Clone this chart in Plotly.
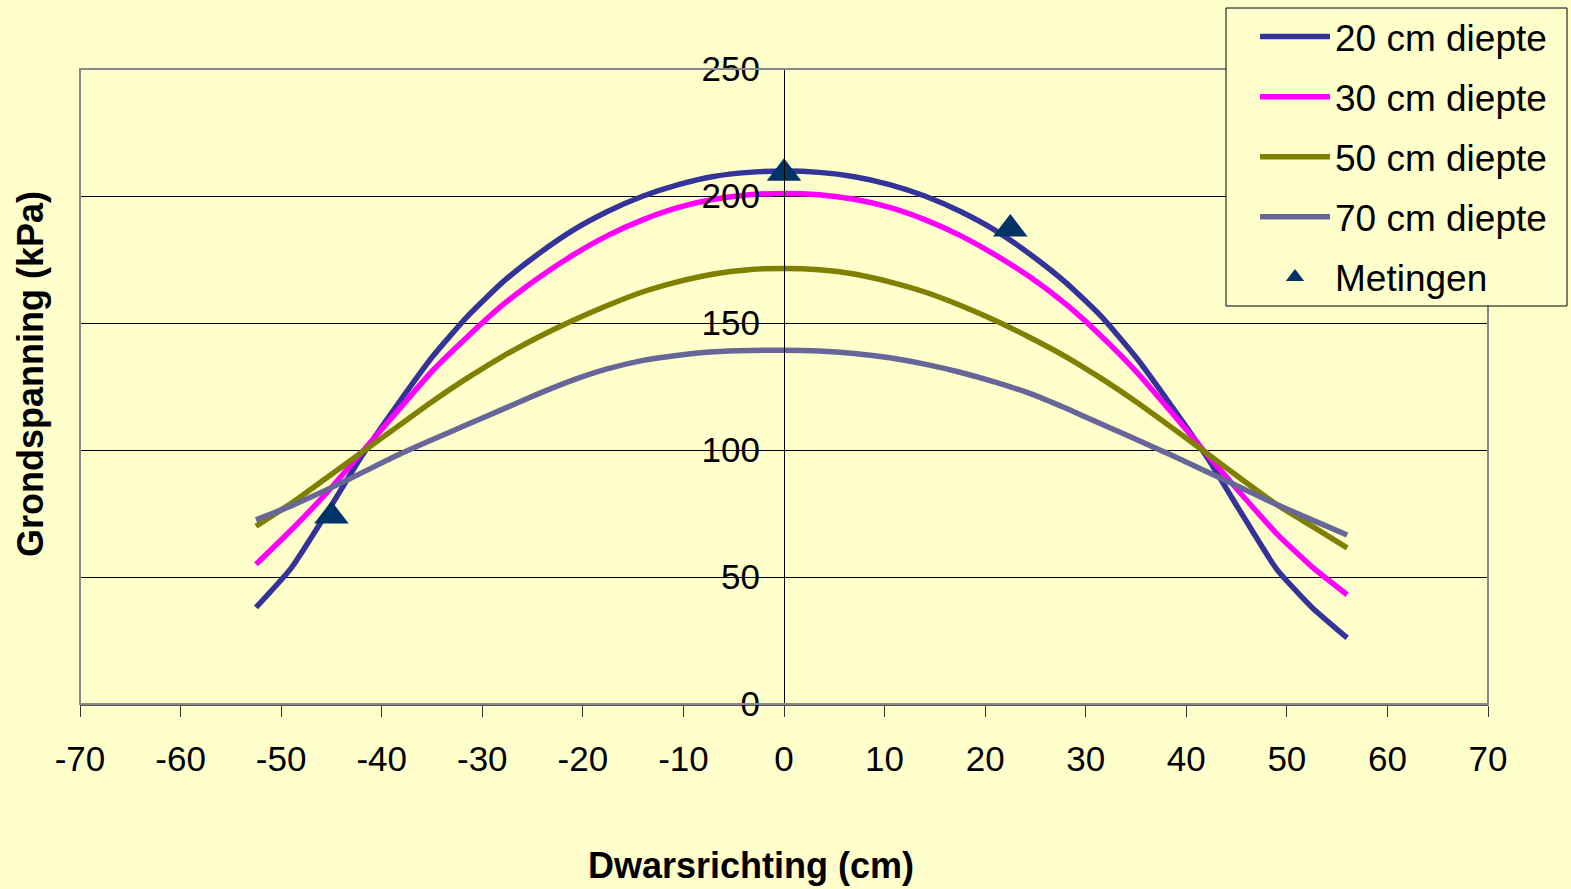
import plotly.graph_objects as go

# ---- data ----
x_pos = [-52.5, -49, -45.5, -42, -38.5, -35, -31.5, -28, -24.5, -21, -17.5, -14, -10.5, -7, -3.5, 0,
         3.5, 7, 10.5, 14, 17.5, 21, 24.5, 28, 31.5, 35, 38.5, 42, 45.5, 49, 52.5, 56]
d20 = [38, 53.5, 75, 97.5, 117.5, 136.5, 152.5, 166, 177, 186.5, 194, 200, 204.5, 207.7, 209.3, 209.8,
       209.3, 207.6, 204.5, 200, 194, 186.5, 177, 166, 152.8, 136.5, 117.5, 97.5, 75, 53, 38, 26]
d30 = [55, 68.5, 83, 99, 115, 131, 144.5, 157, 167.5, 176.7, 184.5, 190.7, 195.5, 198.7, 200.5, 201,
       200.5, 198.7, 195.5, 190.7, 184.5, 176.8, 168, 157.5, 145, 131, 115, 98.5, 82.5, 67, 54, 43]
d50 = [70, 79, 89, 99, 109, 119, 128.3, 136.8, 144.3, 151, 157, 162.3, 166.3, 169.3, 171, 171.5,
       171, 169.3, 166.2, 162.2, 157, 151, 144.2, 136.8, 128.3, 119, 109, 98.8, 88.5, 78.5, 70, 61.5]
d70 = [72.5, 78, 84.3, 91, 97.8, 104, 110, 116, 122, 127.5, 132, 135.3, 137.3, 138.7, 139.2, 139.3,
       139, 138, 136.3, 133.8, 130.6, 126.7, 122.2, 116.5, 110.3, 104.2, 98, 91.5, 85, 78.5, 72.5, 66.5]
meas_x = [-45, 0, 22.5]
meas_y = [74, 209, 187]

series_names = ["20 cm diepte", "30 cm diepte", "50 cm diepte", "70 cm diepte"]
series_colors = ["#333399", "#FF00FF", "#808000", "#666699"]
x_ticks = [-70, -60, -50, -40, -30, -20, -10, 0, 10, 20, 30, 40, 50, 60, 70]
x_tick_text = ["-70", "-60", "-50", "-40", "-30", "-20", "-10", "0", "10", "20", "30", "40", "50", "60", "70"]
y_ticks = [0, 50, 100, 150, 200, 250]

BG = "#FFFFCC"
FONT = "Arial, 'Liberation Sans', sans-serif"
W, H = 1571, 889

fig = go.Figure()
for name, vals, col in zip(series_names, [d20, d30, d50, d70], series_colors):
    fig.add_trace(go.Scatter(x=x_pos, y=vals, mode="lines", name=name, legendgroup=name,
                             line=dict(color=col, width=5.5, shape="spline", smoothing=0.5)))
fig.add_trace(go.Scatter(x=meas_x, y=meas_y, mode="markers", name="Metingen", legendgroup="m",
                         marker=dict(symbol="triangle-up", size=30, color="#003366")))

fig.update_layout(
    width=W, height=H,
    margin=dict(l=80, r=83, t=69, b=185, autoexpand=False),
    paper_bgcolor=BG, plot_bgcolor=BG,
    font=dict(family=FONT, size=35, color="black"),
    showlegend=True,
    legend=dict(xref="container", yref="container",
                x=1226 / W, y=1 - 6 / H, xanchor="left", yanchor="top",
                bgcolor="rgba(0,0,0,0)", borderwidth=0,
                font=dict(size=37), tracegroupgap=9, traceorder="grouped",
                itemwidth=70, indentation=29),
    xaxis=dict(range=[-70, 70], tickmode="array", tickvals=x_ticks, ticktext=x_tick_text,
               ticks="outside", ticklen=11, tickcolor="#333333", tickwidth=1,
               ticklabelstandoff=12,
               showline=True, linecolor="#555555", linewidth=2, mirror=False,
               showgrid=False, zeroline=False, tickfont=dict(size=35)),
    yaxis=dict(range=[0, 250], tickmode="array", tickvals=y_ticks,
               anchor="free", position=0.5,
               ticks="outside", ticklen=10, tickcolor="black", tickwidth=1,
               ticklabelstandoff=7,
               showline=True, linecolor="black", linewidth=1,
               showgrid=True, gridcolor="black", gridwidth=1, zeroline=False,
               tickfont=dict(size=35)),
    shapes=[
        dict(type="rect", xref="x domain", yref="y domain", x0=0, x1=1, y0=0, y1=1,
             line=dict(color="#888888", width=2), layer="above"),
        # legend frame
        dict(type="rect", xref="paper", yref="paper",
             x0=(1226 - 80) / 1408, x1=(1567 - 80) / 1408,
             y0=(704 - 306) / 635, y1=(704 - 8) / 635,
             line=dict(color="black", width=1), fillcolor=BG, layer="above"),
    ],
    annotations=[
        dict(text="<b>Grondspanning (kPa)</b>", xref="paper", yref="paper",
             x=(30 - 80) / 1408, y=(704 - 374) / 635, textangle=-90, showarrow=False,
             xanchor="center", yanchor="middle", font=dict(size=36)),
        dict(text="<b>Dwarsrichting (cm)</b>", xref="paper", yref="paper",
             x=(751 - 80) / 1408, y=(704 - 865) / 635, showarrow=False,
             xanchor="center", yanchor="middle", font=dict(size=36)),
    ],
)

fig.write_html("out.html")
